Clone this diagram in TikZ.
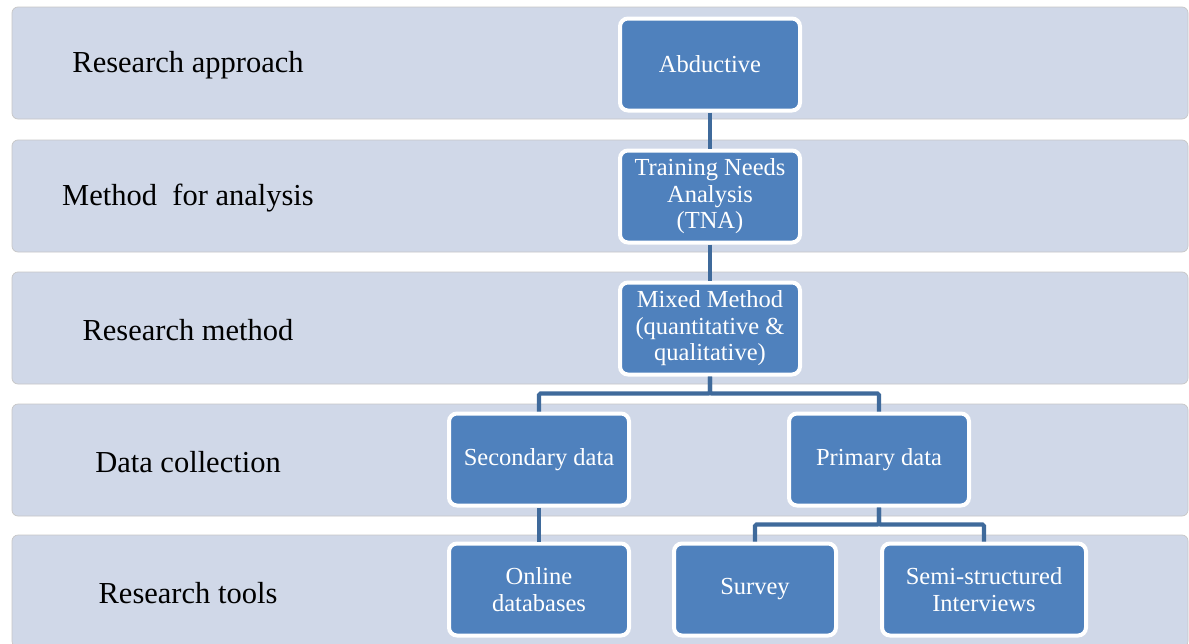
\documentclass[tikz,border=0pt]{standalone}
\usepackage{fontspec}
\setmainfont{Liberation Serif}
\usetikzlibrary{positioning}
\definecolor{bandfill}{HTML}{D0D8E8}
\definecolor{boxfill}{HTML}{4F81BD}
\definecolor{linkcol}{HTML}{3F6A9B}

\begin{document}
\begin{tikzpicture}[x=1pt, y=-1pt,
  node distance=36pt,
  band/.style={fill=bandfill, draw=gray!45, line width=0.7pt, rounded corners=6pt},
  lab/.style={font=\fontsize{30.5}{34}\selectfont},
  box/.style={draw=white, line width=4pt, fill=boxfill, rounded corners=8pt, minimum width=180pt, minimum height=92pt, align=center, text=white, font=\fontsize{24.5}{26.5}\selectfont},
  conn/.style={draw=linkcol, line width=4.2pt, rounded corners=1.5pt}]
\useasboundingbox (0,0) rectangle (1189,643);
% level bands with their titles
\foreach \bandtop/\labname/\labtext in {7/appr/Research approach, 140/anal/Method\ \ for analysis, 272/meth/Research method, 404/coll/Data collection, 535/tool/Research tools}{
  \draw[band] (12,\bandtop) rectangle (1188,\bandtop+112);
  \node[lab] (\labname) at (188,\bandtop+58.5) {\labtext};
}
% main column
\node[box] (abd) at (710,64.5) {Abductive};
\node[box, below=of abd] (tna) {Training Needs\\Analysis\\(TNA)};
\node[box, below=of tna] (mix) {Mixed Method\\(quantitative \&\\qualitative)};
% data and tools
\node[box, below=35pt of mix, xshift=-171pt] (sec) {Secondary data};
\node[box, below=35pt of mix, xshift=169pt] (prim) {Primary data};
\node[box, below=34pt of sec] (onl) {Online\\databases};
\node[box, minimum width=162pt, below=34pt of prim, xshift=-124pt] (surv) {Survey};
\node[box, minimum width=204pt, below=34pt of prim, xshift=105pt] (semi) {Semi-structured\\Interviews};
\draw[conn] (abd) -- (tna);
\draw[conn] (tna) -- (mix);
\draw[conn] (mix.south) -- ++(0,17) -| (sec.north);
\draw[conn] (mix.south) -- ++(0,17) -| (prim.north);
\draw[conn] (sec) -- (onl);
\draw[conn] (prim.south) -- ++(0,17) -| (surv.north);
\draw[conn] (prim.south) -- ++(0,17) -| (semi.north);
\end{tikzpicture}
\end{document}
